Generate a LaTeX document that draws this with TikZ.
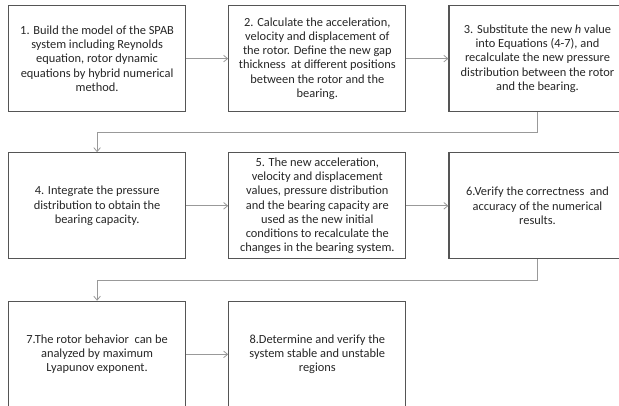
\documentclass[tikz,border=0pt]{standalone}
\usepackage{fontspec}
\setmainfont{Carlito}
\usetikzlibrary{arrows.meta, positioning}

\definecolor{boxline}{HTML}{555555}
\definecolor{linkline}{HTML}{999999}

\tikzset{
    stepbox/.style={draw=boxline, line width=0.9pt, minimum width=132.75pt,
        minimum height=79.5pt, inner sep=0pt, align=center,
        font=\fontsize{9.3}{10.7}\selectfont, text=black!85},
    link/.style={draw=linkline, line width=0.6pt, -{Straight Barb[length=3pt, width=5pt]}}
}

\begin{document}
\begin{tikzpicture}
    \clip (0,0) rectangle (464.25pt,-303.75pt);

    % Row 1
    \node[stepbox, anchor=north west] (b1) at (6pt,-3.75pt)
        {1. Build the model of the SPAB\\system including Reynolds\\equation, rotor dynamic\\equations by hybrid numerical\\method.};
    \node[stepbox, right=31.5pt of b1] (b2)
        {2. Calculate the acceleration,\\velocity and displacement of\\the rotor. Define the new gap\\thickness\ \ at different positions\\between the rotor and the\\bearing.};
    \node[stepbox, right=31.5pt of b2] (b3)
        {3. Substitute the new \textit{h} value\\into Equations (4-7), and\\recalculate the new pressure\\distribution between the rotor\\and the bearing.};

    % Row 2
    \node[stepbox, below=30pt of b1] (b4)
        {4. Integrate the pressure\\distribution to obtain the\\bearing capacity.};
    \node[stepbox, right=31.5pt of b4] (b5)
        {5. The new acceleration,\\velocity and displacement\\values, pressure distribution\\and the bearing capacity are\\used as the new initial\\conditions to recalculate the\\changes in the bearing system.};
    \node[stepbox, right=31.5pt of b5] (b6)
        {6.Verify the correctness\ \ and\\accuracy of the numerical\\results.};

    % Row 3
    \node[stepbox, below=31pt of b4] (b7)
        {7.The rotor behavior\ \ can be\\analyzed by maximum\\Lyapunov exponent.};
    \node[stepbox, right=31.5pt of b7] (b8)
        {8.Determine and verify the\\system stable and unstable\\regions};

    % Links
    \draw[link] (b1) -- (b2);
    \draw[link] (b2) -- (b3);
    \draw[link] (b3.south) -- ++(0,-15pt) -| (b4.north);
    \draw[link] (b4) -- (b5);
    \draw[link] (b5) -- (b6);
    \draw[link] (b6.south) -- ++(0,-15.5pt) -| (b7.north);
    \draw[link] (b7) -- (b8);
\end{tikzpicture}
\end{document}
